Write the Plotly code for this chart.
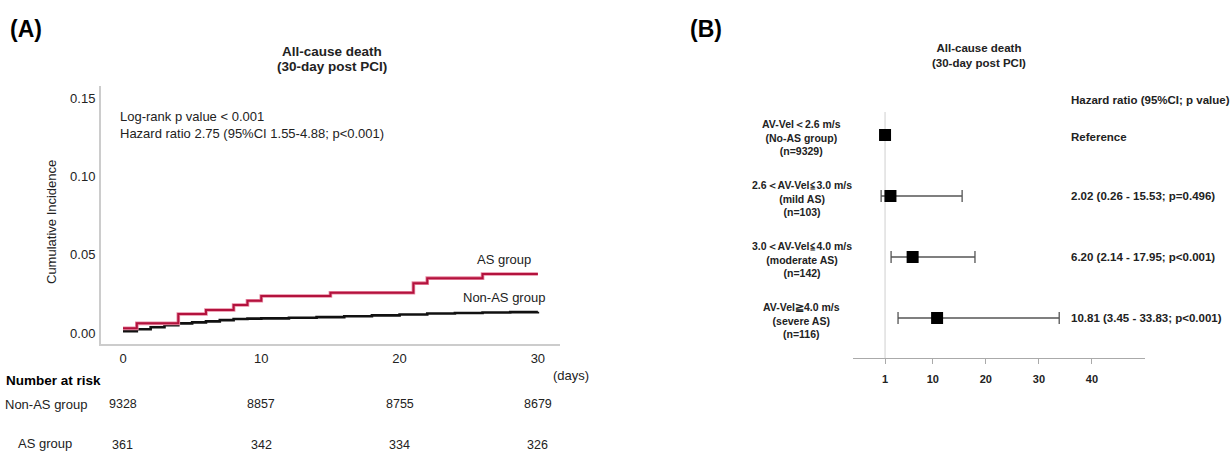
import plotly.graph_objects as go

# ---------------- data ----------------
# Panel A: Kaplan-Meier cumulative incidence (30 days)
as_days = [0, 1, 4, 6, 8, 9, 10, 15, 21, 22, 26, 30]
as_inc = [0.0030, 0.0062, 0.0122, 0.0147, 0.0179, 0.0207, 0.0237, 0.0258, 0.0319, 0.0351, 0.0378, 0.0378]

nonas_days = [0, 1, 2, 3, 4, 5, 6, 7, 8, 9, 10, 12, 14, 16, 18, 20, 22, 24, 26, 28, 30]
nonas_inc = [0.0012, 0.0024, 0.0037, 0.0050, 0.0062, 0.0068, 0.0075, 0.0083, 0.0090, 0.0092, 0.0094,
             0.0098, 0.0102, 0.0107, 0.0113, 0.0119, 0.0125, 0.0128, 0.0131, 0.0134, 0.0137]

risk_days = [0, 10, 20, 30]
risk_nonas = [9328, 8857, 8755, 8679]
risk_as = [361, 342, 334, 326]

km_yticks = [0.00, 0.05, 0.10, 0.15]
km_xticks = [0, 10, 20, 30]

# Panel B: forest plot
group_labels = [
    "AV-Vel＜2.6 m/s<br>(No-AS group)<br>(n=9329)",
    "2.6＜AV-Vel≦3.0 m/s<br>(mild AS)<br>(n=103)",
    "3.0＜AV-Vel≦4.0 m/s<br>(moderate AS)<br>(n=142)",
    "AV-Vel≧4.0 m/s<br>(severe AS)<br>(n=116)",
]
rows = [0, 1, 2, 3]
hr = [1.0, 2.02, 6.20, 10.81]
ci_lo = [None, 0.26, 2.14, 3.45]
ci_hi = [None, 15.53, 17.95, 33.83]
hr_text = [
    "Reference",
    "2.02 (0.26 - 15.53; p=0.496)",
    "6.20 (2.14 - 17.95; p<0.001)",
    "10.81 (3.45 - 33.83; p<0.001)",
]
forest_ticks = [1, 10, 20, 30, 40]

# ---------------- layout helpers ----------------
W, H = 1231, 452
FONT = "Arial, Liberation Sans, sans-serif"
TXT = "#222222"


def px(x):
    return x / W


def py(y):
    return 1 - y / H


fig = go.Figure()

# KM curves
fig.add_trace(go.Scatter(x=nonas_days, y=nonas_inc, mode="lines", line_shape="hv",
                         line=dict(color="#111111", width=2.6), xaxis="x", yaxis="y",
                         showlegend=False, hoverinfo="skip"))
fig.add_trace(go.Scatter(x=as_days, y=as_inc, mode="lines", line_shape="hv",
                         line=dict(color="#e88aa3", width=3.6), xaxis="x", yaxis="y",
                         showlegend=False, hoverinfo="skip"))
fig.add_trace(go.Scatter(x=as_days, y=as_inc, mode="lines", line_shape="hv",
                         line=dict(color="#b3123d", width=2.0), xaxis="x", yaxis="y",
                         showlegend=False))

# Forest: CI rows
ci_rows = [r for r, lo in zip(rows, ci_lo) if lo is not None]
ci_hr = [h for h, lo in zip(hr, ci_lo) if lo is not None]
plus = [hi - h for h, hi, lo in zip(hr, ci_hi, ci_lo) if lo is not None]
minus = [h - lo for h, lo in zip(hr, ci_lo) if lo is not None]
fig.add_trace(go.Scatter(
    x=ci_hr, y=ci_rows, mode="markers", xaxis="x2", yaxis="y2",
    marker=dict(symbol="square", size=12, color="black"),
    error_x=dict(type="data", symmetric=False, array=plus, arrayminus=minus,
                 color="#555555", thickness=1.3, width=6),
    showlegend=False))
ref_rows = [r for r, lo in zip(rows, ci_lo) if lo is None]
ref_hr = [h for h, lo in zip(hr, ci_lo) if lo is None]
fig.add_trace(go.Scatter(x=ref_hr, y=ref_rows, mode="markers", xaxis="x2", yaxis="y2",
                         marker=dict(symbol="square", size=12, color="black"),
                         showlegend=False))

# reference line at HR = 1
fig.add_shape(type="line", xref="x2", yref="y2", x0=1, x1=1, y0=-0.377, y1=3.656,
              line=dict(color="#cfcfcf", width=1), layer="below")

ann = []
# Panel labels
ann.append(dict(text="<b>(A)</b>", x=px(8), y=py(29), xanchor="left", yanchor="middle",
                font=dict(size=23, color="black")))
ann.append(dict(text="<b>(B)</b>", x=px(688), y=py(29), xanchor="left", yanchor="middle",
                font=dict(size=23, color="black")))
# Titles
ann.append(dict(text="<b>All-cause death</b>", x=px(332), y=py(51),
                xanchor="center", yanchor="middle", font=dict(size=13.5, color=TXT)))
ann.append(dict(text="<b>(30-day post PCI)</b>", x=px(332), y=py(66),
                xanchor="center", yanchor="middle", font=dict(size=13.5, color=TXT)))
ann.append(dict(text="<b>All-cause death<br>(30-day post PCI)</b>", x=px(979), y=py(56),
                xanchor="center", yanchor="middle", font=dict(size=11.5, color=TXT)))
# KM annotations
ann.append(dict(text="Log-rank p value < 0.001<br>Hazard ratio 2.75 (95%CI 1.55-4.88; p<0.001)",
                x=px(118), y=py(125), xanchor="left", yanchor="middle", align="left",
                font=dict(size=13, color=TXT)))
ann.append(dict(text="Cumulative Incidence", x=px(51), y=py(222), textangle=-90,
                xanchor="center", yanchor="middle", font=dict(size=13, color=TXT)))
ann.append(dict(text="AS group", x=px(504), y=py(259), xanchor="center", yanchor="middle",
                font=dict(size=13, color=TXT)))
ann.append(dict(text="Non-AS group", x=px(504), y=py(297), xanchor="center", yanchor="middle",
                font=dict(size=13, color=TXT)))
ann.append(dict(text="(days)", x=px(571), y=py(375), xanchor="center", yanchor="middle",
                font=dict(size=13, color=TXT)))
# Number at risk table
ann.append(dict(text="<b>Number at risk</b>", x=px(4), y=py(380), xanchor="left", yanchor="middle",
                font=dict(size=13.5, color="black")))
ann.append(dict(text="Non-AS group", x=px(3), y=py(404), xanchor="left", yanchor="middle",
                font=dict(size=13, color=TXT)))
ann.append(dict(text="AS group", x=px(45), y=py(443), xanchor="center", yanchor="middle",
                font=dict(size=13, color=TXT)))
for d, n in zip(risk_days, risk_nonas):
    ann.append(dict(text=str(n), x=d, xref="x", y=py(404), yref="paper", xanchor="center",
                    yanchor="middle", font=dict(size=12.5, color=TXT)))
for d, n in zip(risk_days, risk_as):
    ann.append(dict(text=str(n), x=d, xref="x", y=py(445), yref="paper", xanchor="center",
                    yanchor="middle", font=dict(size=12.5, color=TXT)))

# Forest labels
ann.append(dict(text="<b>Hazard ratio (95%CI; p value)</b>", x=px(1069), y=py(100),
                xanchor="left", yanchor="middle", font=dict(size=11.5, color=TXT)))
for r, lab, t in zip(rows, group_labels, hr_text):
    ann.append(dict(text="<b>" + lab + "</b>", x=px(802), xref="paper", y=r + 0.04, yref="y2",
                    xanchor="center", yanchor="middle", align="center",
                    font=dict(size=10.5, color=TXT)))
    ann.append(dict(text="<b>" + t + "</b>", x=px(1069), xref="paper",
                    y=r + (0.03 if r == 0 else 0), yref="y2",
                    xanchor="left", yanchor="middle", font=dict(size=11.5, color=TXT)))

for a in ann:
    a.setdefault("xref", "paper")
    a.setdefault("yref", "paper")
    a["showarrow"] = False

fig.update_layout(
    width=W, height=H,
    margin=dict(l=0, r=0, t=0, b=0),
    paper_bgcolor="white", plot_bgcolor="white",
    font=dict(family=FONT, color=TXT),
    showlegend=False,
    annotations=ann,
    xaxis=dict(domain=[px(101), px(560)], range=[-1.59, 31.6], anchor="y",
               tickmode="array", tickvals=km_xticks, ticks="", showgrid=False, zeroline=False,
               showline=True, linecolor="#cccccc", linewidth=2,
               tickfont=dict(size=13, color=TXT), ticklabelstandoff=1),
    yaxis=dict(domain=[py(344), py(86)], range=[-0.007, 0.158], anchor="x",
               tickmode="array", tickvals=km_yticks, tickformat=".2f", ticks="",
               showgrid=False, zeroline=False, showline=True, linecolor="#cccccc", linewidth=2,
               tickfont=dict(size=13, color=TXT), ticklabelstandoff=1),
    xaxis2=dict(domain=[px(853), px(1145)], range=[-5.04, 50], anchor="y2",
                tickmode="array", tickvals=forest_ticks, ticks="outside", ticklen=5,
                tickcolor="#aaaaaa", showgrid=False, zeroline=False, showline=True,
                linecolor="#aaaaaa", linewidth=1.3,
                tickfont=dict(size=11, color=TXT, weight="bold"), ticklabelstandoff=6),
    yaxis2=dict(domain=[py(358), py(86)], range=[3.656, -0.803], anchor="x2",
                visible=False, showgrid=False, zeroline=False),
)

fig.write_html("out.html", config={"displayModeBar": False},
               post_script="document.body.style.margin='0px';document.body.style.overflow='hidden';")
